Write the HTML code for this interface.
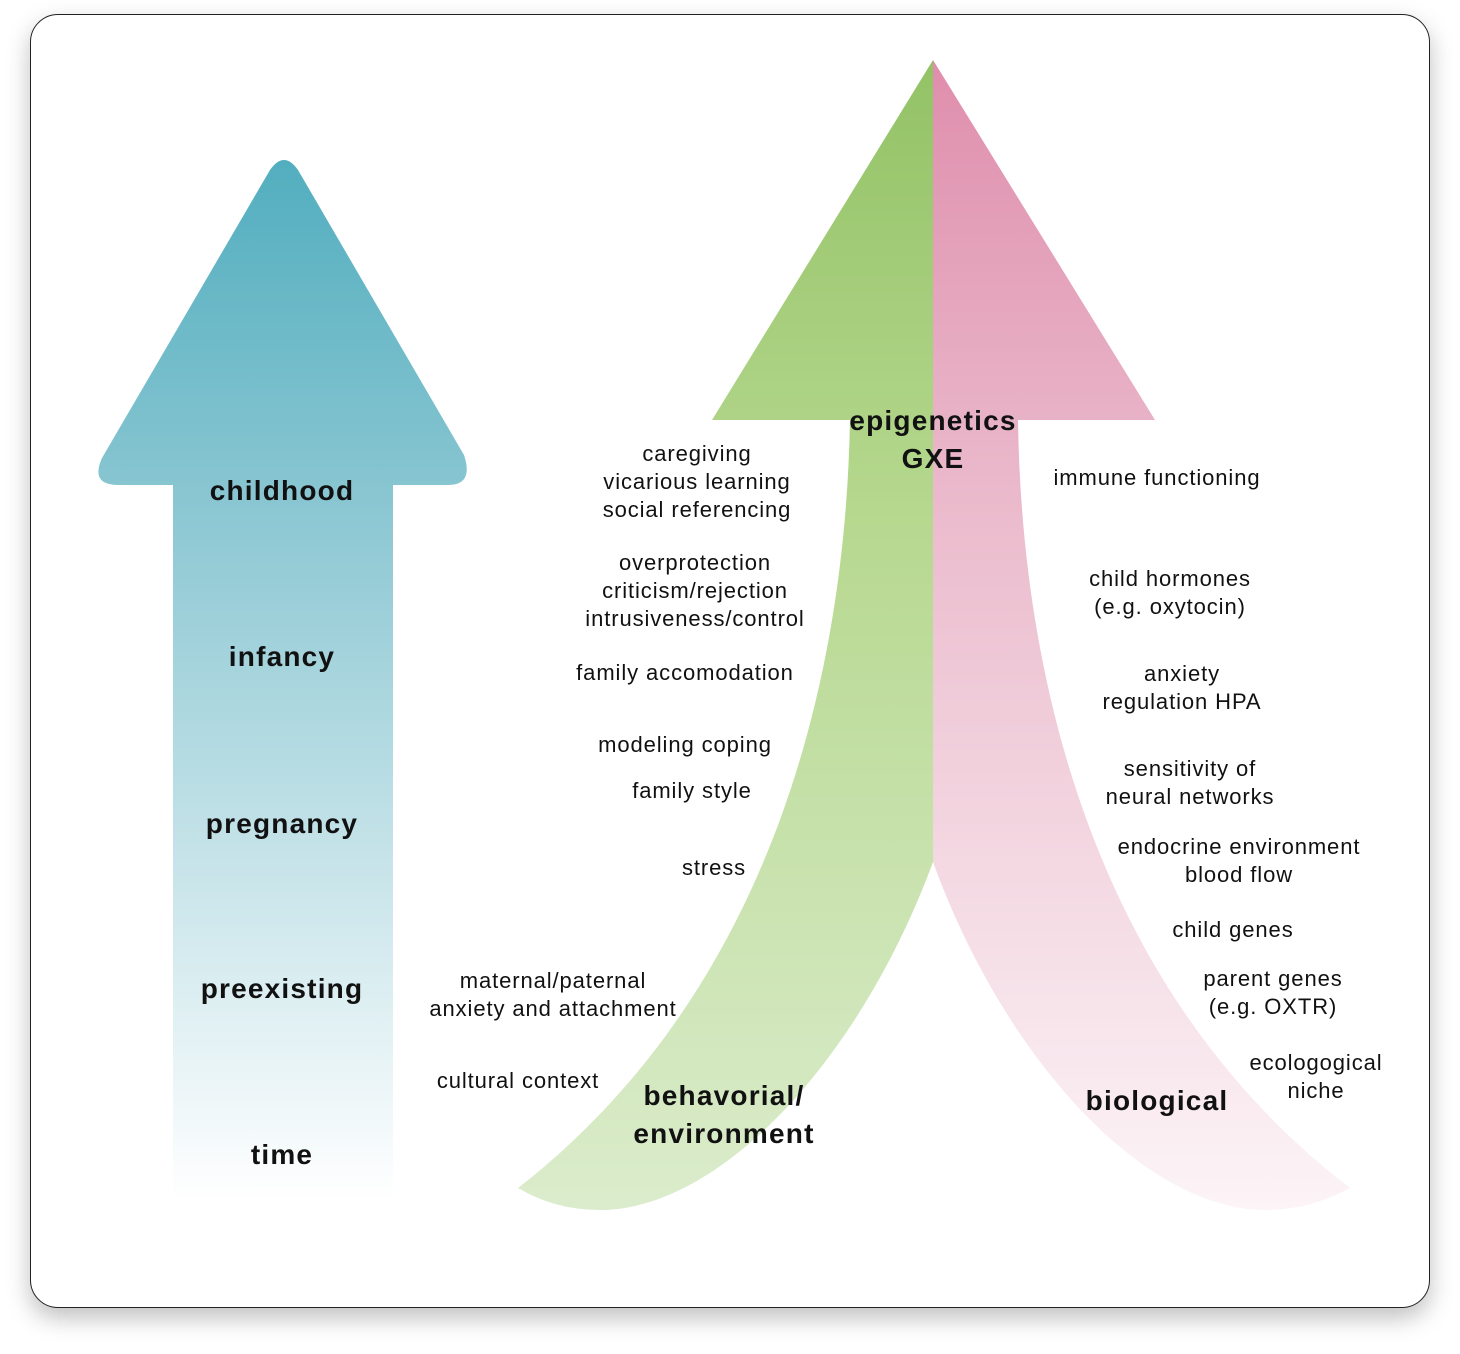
<!DOCTYPE html>
<html><head><style>
body{margin:0;width:1460px;height:1354px;background:#fff;font-family:"Liberation Sans",sans-serif;}
.card{position:absolute;left:30px;top:14px;width:1398px;height:1292px;border:1px solid #222;border-radius:28px;box-shadow:0 10px 24px rgba(0,0,0,0.25);background:#fff;}
svg{position:absolute;left:0;top:0;}
</style></head><body>
<div class="card"></div>
<svg width="1460" height="1354" font-family="Liberation Sans, sans-serif">
<defs>
<linearGradient id="b" x1="0" y1="0" x2="0" y2="1" gradientUnits="objectBoundingBox">
<stop offset="0" stop-color="#52aebf"/><stop offset="0.3" stop-color="#85c4d0"/><stop offset="1" stop-color="#ffffff"/></linearGradient>
<linearGradient id="g" x1="0" y1="60" x2="0" y2="1210" gradientUnits="userSpaceOnUse">
<stop offset="0" stop-color="#93c266"/><stop offset="0.4" stop-color="#b6d88f"/><stop offset="1" stop-color="#dbeccc"/></linearGradient>
<linearGradient id="p" x1="0" y1="60" x2="0" y2="1210" gradientUnits="userSpaceOnUse">
<stop offset="0" stop-color="#df8eac"/><stop offset="0.4" stop-color="#ebbccd"/><stop offset="1" stop-color="#fcf4f7"/></linearGradient>
</defs>
<path d="M270,170 Q284,150 298,170 L464,455 Q474,485 448,485 L393,485 L393,1200 L173,1200 L173,485 L118,485 Q90,485 102,458 Z" fill="url(#b)"/>
<path d="M933,60 L933,862 C860,1060 720,1210 600,1210 Q555,1210 518,1188 C760,1000 845,700 850,420 L712,420 Z" fill="url(#g)"/>
<path d="M933,60 L1155,420 L1018,420 C1022,700 1105,1000 1350,1188 Q1310,1210 1265,1210 C1145,1210 1005,1060 933,862 Z" fill="url(#p)"/>
<g font-weight="bold" font-size="28" text-anchor="middle" fill="#111" letter-spacing="1.2">
<text x="282" y="500">childhood</text><text x="282" y="666">infancy</text>
<text x="282" y="833">pregnancy</text><text x="282" y="998">preexisting</text>
<text x="282" y="1164">time</text>
<text x="933" y="430">epigenetics</text><text x="933" y="468">GXE</text>
<text x="724" y="1105">behavorial/</text><text x="724" y="1143">environment</text>
<text x="1157" y="1110">biological</text>
</g>
<g font-size="22" text-anchor="middle" fill="#111" letter-spacing="0.9">
<text x="697" y="461">caregiving</text><text x="697" y="489">vicarious learning</text><text x="697" y="517">social referencing</text>
<text x="695" y="570">overprotection</text><text x="695" y="598">criticism/rejection</text><text x="695" y="626">intrusiveness/control</text>
<text x="685" y="680">family accomodation</text>
<text x="685" y="752">modeling coping</text>
<text x="692" y="798">family style</text>
<text x="714" y="875">stress</text>
<text x="553" y="988">maternal/paternal</text><text x="553" y="1016">anxiety and attachment</text>
<text x="518" y="1088">cultural context</text>
<text x="1157" y="485">immune functioning</text>
<text x="1170" y="586">child hormones</text><text x="1170" y="614">(e.g. oxytocin)</text>
<text x="1182" y="681">anxiety</text><text x="1182" y="709">regulation HPA</text>
<text x="1190" y="776">sensitivity of</text><text x="1190" y="804">neural networks</text>
<text x="1239" y="854">endocrine environment</text><text x="1239" y="882">blood flow</text>
<text x="1233" y="937">child genes</text>
<text x="1273" y="986">parent genes</text><text x="1273" y="1014">(e.g. OXTR)</text>
<text x="1316" y="1070">ecologogical</text><text x="1316" y="1098">niche</text>
</g>
</svg>
</body></html>
